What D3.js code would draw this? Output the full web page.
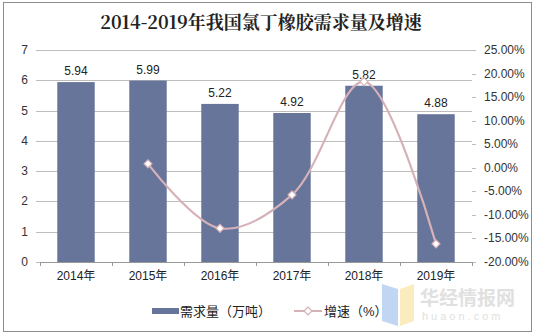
<!DOCTYPE html>
<html><head><meta charset="utf-8">
<script src="https://cdn.jsdelivr.net/npm/d3@7"></script>
<style>body{margin:0;background:#fff;}svg{display:block;}</style>
</head><body>
<script>
const categories = ["2014年","2015年","2016年","2017年","2018年","2019年"];
const demand = [5.94, 5.99, 5.22, 4.92, 5.82, 4.88];
const growth = [null, 0.84, -12.85, -5.75, 18.29, -16.15];
const leftTicks = [0,1,2,3,4,5,6,7];
const rightTicks = [-20,-15,-10,-5,0,5,10,15,20,25];
const title = "2014-2019年我国氯丁橡胶需求量及增速";
const legendLabels = ["需求量（万吨）","增速（%）"];

const W=535,H=336;
const svg=d3.select("body").append("svg").attr("width",W).attr("height",H);
svg.append("rect").attr("x",3.5).attr("y",2.5).attr("width",528).attr("height",329)
  .attr("fill","#fff").attr("stroke","#8c8c8c").attr("stroke-width",1);

const font="Arial, 'Liberation Sans', 'Noto Sans CJK SC', sans-serif";
svg.append("text").attr("x",261).attr("y",29).attr("text-anchor","middle")
  .attr("font-family","'Noto Serif CJK SC','Liberation Serif','Noto Sans CJK SC',serif")
  .attr("font-weight","bold").attr("font-size",18).attr("fill","#222").text(title);

const x0=40,x1=472,yTop=50,yBot=262;
const x=d3.scaleBand().domain(categories).range([x0,x1]).paddingInner(0.48).paddingOuter(0.24);
const band=d3.scaleBand().domain(categories).range([x0,x1]);
const yL=d3.scaleLinear().domain([0,7]).range([yBot,yTop]);
const yR=d3.scaleLinear().domain([-20,25]).range([yBot,yTop]);

// gridlines
svg.append("g").selectAll("line").data(leftTicks.filter(d=>d>0)).join("line")
  .attr("x1",x0).attr("x2",x1).attr("y1",d=>Math.round(yL(d))+0.5).attr("y2",d=>Math.round(yL(d))+0.5)
  .attr("stroke","#bdbdbd").attr("stroke-width",1);

// left axis labels
svg.append("g").selectAll("text").data(leftTicks).join("text")
  .attr("x",28).attr("y",d=>yL(d)+4).attr("text-anchor","end")
  .attr("font-family",font).attr("font-size",12).attr("fill","#333").text(d=>d);
svg.append("g").selectAll("line").data(leftTicks).join("line")
  .attr("x1",x0-4).attr("x2",x0).attr("y1",d=>Math.round(yL(d))+0.5).attr("y2",d=>Math.round(yL(d))+0.5)
  .attr("stroke","#bdbdbd");
// right axis labels
svg.append("g").selectAll("text").data(rightTicks).join("text")
  .attr("x",484).attr("y",d=>yR(d)+4).attr("text-anchor","start")
  .attr("font-family",font).attr("font-size",12).attr("fill","#333").text(d=>d.toFixed(2)+"%");
svg.append("g").selectAll("line").data(rightTicks).join("line")
  .attr("x1",x1).attr("x2",x1+4).attr("y1",d=>Math.round(yR(d))+0.5).attr("y2",d=>Math.round(yR(d))+0.5)
  .attr("stroke","#bdbdbd");

// bars
svg.append("g").selectAll("rect").data(categories).join("rect")
  .attr("x",(d)=>x(d)).attr("width",x.bandwidth())
  .attr("y",(d,i)=>yL(demand[i])).attr("height",(d,i)=>yBot-yL(demand[i]))
  .attr("fill","#67759b");

// x axis
svg.append("line").attr("x1",x0).attr("x2",x1).attr("y1",yBot+0.5).attr("y2",yBot+0.5).attr("stroke","#999");
const bounds=categories.map(c=>band(c)).concat([x1]);
svg.append("g").selectAll("line").data(bounds).join("line")
  .attr("x1",d=>Math.round(d)+0.5).attr("x2",d=>Math.round(d)+0.5).attr("y1",yBot).attr("y2",yBot+4).attr("stroke","#999");
svg.append("g").selectAll("text").data(categories).join("text")
  .attr("x",d=>band(d)+band.bandwidth()/2).attr("y",280).attr("text-anchor","middle")
  .attr("font-family",font).attr("font-size",12).attr("fill","#222").text(d=>d);

// bar labels
svg.append("g").selectAll("text").data(categories).join("text")
  .attr("x",d=>band(d)+band.bandwidth()/2).attr("y",(d,i)=>yL(demand[i])-7).attr("text-anchor","middle")
  .attr("font-family",font).attr("font-size",12).attr("fill","#222").text((d,i)=>demand[i].toFixed(2));

// growth line
const pts=categories.map((c,i)=>({c,v:growth[i]})).filter(d=>d.v!==null);
const line=d3.line().x(d=>band(d.c)+band.bandwidth()/2).y(d=>yR(d.v)).curve(d3.curveCatmullRom.alpha(0.5));
svg.append("path").datum(pts).attr("d",line).attr("fill","none").attr("stroke","#d6b2b8").attr("stroke-width",2.2);
const diamond=d3.symbol().type(d3.symbolDiamond2).size(40);
svg.append("g").selectAll("path").data(pts).join("path")
  .attr("transform",d=>`translate(${band(d.c)+band.bandwidth()/2},${yR(d.v)})`)
  .attr("d",diamond).attr("fill","#fff").attr("stroke","#d6b2b8").attr("stroke-width",1.2);

// legend
svg.append("rect").attr("x",152).attr("y",308).attr("width",27).attr("height",6).attr("fill","#67759b");
svg.append("text").attr("x",180).attr("y",316).attr("font-family",font).attr("font-size",13).attr("fill","#222").text(legendLabels[0]);
svg.append("line").attr("x1",294).attr("x2",322).attr("y1",311).attr("y2",311).attr("stroke","#d6b2b8").attr("stroke-width",2);
svg.append("path").attr("transform","translate(308,311)").attr("d",diamond).attr("fill","#fff").attr("stroke","#d6b2b8").attr("stroke-width",1.2);
svg.append("text").attr("x",324).attr("y",316).attr("font-family",font).attr("font-size",13).attr("fill","#222").text(legendLabels[1]);

// watermark
const wm=svg.append("g").attr("opacity",0.55);
wm.append("path").attr("d","M382,284 L398,289 L398,326 L382,321 Z").attr("fill","#8fb6e8");
wm.append("path").attr("d","M400,289 L414,284 L414,321 L400,326 Z").attr("fill","#f6dd8a");
wm.append("text").attr("x",420).attr("y",305).attr("font-family","'Noto Sans CJK SC',sans-serif").attr("font-size",19).attr("font-weight","bold").attr("fill","#c8c8c8").text("华经情报网");
wm.append("text").attr("x",422).attr("y",320).attr("font-family",font).attr("font-size",11).attr("letter-spacing",3).attr("fill","#c8c8c8").text("huaon.com");
</script>
</body></html>
